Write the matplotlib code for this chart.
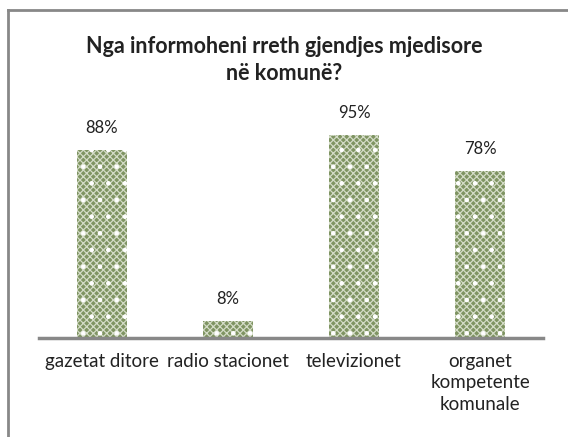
import numpy as np
import matplotlib.pyplot as plt

categories = ['gazetat ditore', 'radio stacionet', 'televizionet', 'organet\nkompetente\nkomunale']
values = [88, 8, 95, 78]
labels = ['88%', '8%', '95%', '78%']
title = 'Nga informoheni rreth gjendjes mjedisore\nnë komunë?'

plt.rcParams['font.family'] = ['Lato', 'DejaVu Sans']
plt.rcParams['hatch.linewidth'] = 0.9

fig = plt.figure(figsize=(5.68, 4.37), dpi=100)
ax = fig.add_axes([39 / 568, 99 / 437, 504 / 568, 238 / 437])

x = np.arange(len(categories))
# base fill with a fine cross hatch, then white dots on top
ax.bar(x, values, width=0.4, color='#7f9462', edgecolor='#d3dbc6', hatch='xxxxx', linewidth=0)
ax.bar(x, values, width=0.4, color='none', edgecolor='white', hatch='.', linewidth=0)

for xi, v, lab in zip(x, values, labels):
    ax.text(xi, v + 10.3, lab, ha='center', va='center', fontsize=12, color='#222222')

ax.set_xlim(-0.5, len(categories) - 0.5)
ax.set_ylim(0, 111.4)
ax.set_xticks(x)
ax.set_xticklabels(categories, fontsize=13.5, color='#222222', linespacing=1.3)
ax.tick_params(axis='x', length=0, pad=11)
ax.set_yticks([])
for s in ['top', 'right', 'left']:
    ax.spines[s].set_visible(False)
ax.spines['bottom'].set_color('#888888')
ax.spines['bottom'].set_linewidth(2.5)

fig.text(0.5, 1 - 60 / 437, title, ha='center', va='center',
         fontsize=15.5, fontweight='bold', color='#222222', linespacing=1.3)

# outer frame (only top and left edges visible in the crop)
fig.add_artist(plt.Line2D([8 / 568, 8 / 568], [0, 1 - 10 / 437], transform=fig.transFigure,
                          color='#888888', linewidth=2))
fig.add_artist(plt.Line2D([8 / 568, 1], [1 - 10 / 437, 1 - 10 / 437], transform=fig.transFigure,
                          color='#888888', linewidth=2))

fig.savefig('out.png', dpi=100)
